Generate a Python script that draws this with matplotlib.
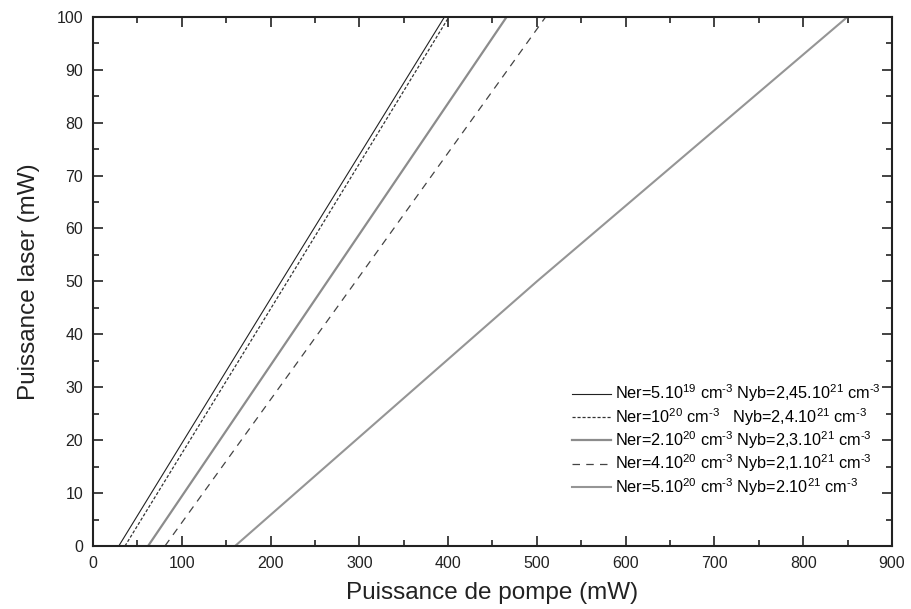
import matplotlib
matplotlib.use("Agg")
import matplotlib.pyplot as plt
from matplotlib.ticker import MultipleLocator

plt.rcParams['font.family'] = ['Liberation Sans', 'DejaVu Sans']
plt.rcParams['mathtext.fontset'] = 'custom'
plt.rcParams['mathtext.rm'] = 'Liberation Sans'
plt.rcParams['mathtext.it'] = 'Liberation Sans:italic'
plt.rcParams['mathtext.default'] = 'regular'

# puissance laser (mW) aux points lus
laser = [0, 50, 100]
# puissance de pompe (mW) pour chaque composition
pompe_5e19 = [29, 212, 396]
pompe_1e20 = [36, 219, 401]
pompe_2e20 = [62, 264, 466]
pompe_4e20 = [81, 296, 510]
pompe_5e20 = [160, 500, 850]

labels = [
    r'Ner=5.10$^{19}$ cm$^{\text{-3}}$ Nyb=2,45.10$^{21}$ cm$^{\text{-3}}$',
    r'Ner=10$^{20}$ cm$^{\text{-3}}$   Nyb=2,4.10$^{21}$ cm$^{\text{-3}}$',
    r'Ner=2.10$^{20}$ cm$^{\text{-3}}$ Nyb=2,3.10$^{21}$ cm$^{\text{-3}}$',
    r'Ner=4.10$^{20}$ cm$^{\text{-3}}$ Nyb=2,1.10$^{21}$ cm$^{\text{-3}}$',
    r'Ner=5.10$^{20}$ cm$^{\text{-3}}$ Nyb=2.10$^{21}$ cm$^{\text{-3}}$',
]

fig = plt.figure(figsize=(9.12, 6.09), dpi=100)
ax = fig.add_axes([0.102, 0.1034, 0.876, 0.869])

ax.plot(pompe_5e19, laser, color='#222222', lw=0.8, ls='-', label=labels[0])
ax.plot(pompe_1e20, laser, color='#333333', lw=0.9, ls=(0, (2.5, 1.5)), label=labels[1])
ax.plot(pompe_2e20, laser, color='#8c8c8c', lw=1.6, ls='-', label=labels[2])
ax.plot(pompe_4e20, laser, color='#444444', lw=0.9, ls=(0, (6, 5)), label=labels[3])
ax.plot(pompe_5e20, laser, color='#959595', lw=1.5, ls='-', label=labels[4])

ax.set_xlim(0, 900)
ax.set_ylim(0, 100)
ax.xaxis.set_major_locator(MultipleLocator(100))
ax.xaxis.set_minor_locator(MultipleLocator(50))
ax.yaxis.set_major_locator(MultipleLocator(10))
ax.yaxis.set_minor_locator(MultipleLocator(5))
ax.tick_params(which='both', direction='in', top=True, right=True, width=1.2,
               labelsize=11.5, colors='#222222')
ax.tick_params(which='major', length=7, pad=7)
ax.tick_params(which='minor', length=4)
for s in ax.spines.values():
    s.set_linewidth(1.5)
    s.set_color('#222222')

ax.set_xlabel('Puissance de pompe (mW)', fontsize=17.5, labelpad=8, color='#222222')
ax.set_ylabel('Puissance laser (mW)', fontsize=17.5, labelpad=12, color='#222222')

ax.legend(loc='lower right', bbox_to_anchor=(1.0, 0.07), frameon=False, fontsize=11.7,
          handlelength=2.4, handletextpad=0.2, labelspacing=0.1, borderaxespad=0.3)

fig.savefig('out.png', dpi=100)
